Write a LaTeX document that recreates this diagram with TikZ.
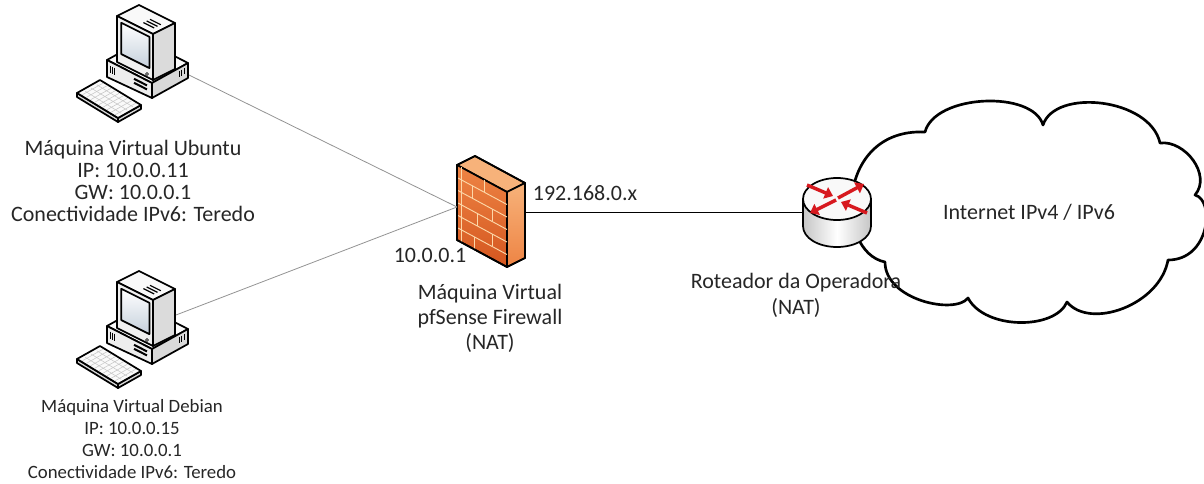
\documentclass[tikz,border=0pt]{standalone}
\usepackage{fontspec}
\setmainfont{Carlito}
\usetikzlibrary{arrows.meta}

\definecolor{txt}{HTML}{262626}
\definecolor{fwlight}{HTML}{F7B27A}
\definecolor{fwmid}{HTML}{EE8444}
\definecolor{fwdark}{HTML}{D4561F}
\definecolor{brick}{HTML}{FCD7A8}
\definecolor{screen}{HTML}{C5D0DC}
\definecolor{arrowred}{HTML}{D7191F}

\tikzset{
  outline/.style={draw=black, line width=1.3pt, line join=round},
  lbl/.style={text=txt, align=center, inner sep=0pt},
  big/.style={font=\fontsize{16.5}{16.3}\selectfont},
  lan/.style={draw=gray!85, line width=0.6pt},
  wan/.style={draw=black, line width=0.6pt},
  cloudline/.style={draw=black, line width=2pt, line join=round, fill=white},
  keyline/.style={draw=gray!45, line width=0.4pt},
  brickline/.style={draw=brick, line width=0.7pt},
  redarrow/.style={draw=arrowred, line width=2.6pt, -{Triangle[width=9pt,length=6pt]}},
  %computador
  pics/computer/.style={code={
    %gabinete
    \draw[outline, fill=gray!4] (-26,0) -- (10,-20) -- (55,3) -- (19,23) -- cycle;
    \draw[outline, fill=gray!14] (-26,0) -- (19,23) -- (19,38) -- (-26,17) -- cycle;
    \draw[outline, fill=gray!30] (19,23) -- (55,3) -- (55,18) -- (19,38) -- cycle;
    \draw[line width=1.5pt] (1,18.8) -- (14,25.4) (1,22.8) -- (14,29.4);
    \foreach \x/\y in {-23/1.5, -21/2.6, -19/3.6}
      \draw[line width=0.5pt] (\x,\y+4) -- (\x,\y+11);
    \foreach \x/\y in {46/8, 48.5/6.6, 51/5.2}
      \draw[line width=0.5pt] (\x,\y+3) -- (\x,\y+9);
    %monitor
    \draw[outline, fill=gray!5] (-16,-44) -- (6,-55) -- (42,-37) -- (20,-26) -- cycle;
    \draw[outline, fill=gray!28] (20,-26) -- (42,-37) -- (42,9) -- (20,20) -- cycle;
    \draw[outline, fill=gray!12] (-16,-44) -- (20,-26) -- (20,20) -- (-16,2) -- cycle;
    \draw[outline, top color=white, bottom color=screen]
      (-11.7,-37.2) -- (16.4,-23.2) -- (16.4,8.1) -- (-11.7,-5.9) -- cycle;
    \foreach \t in {0.3,0.45,0.6}
      \draw[line width=0.9pt] (-16,-44) ++(19.8+22*\t, 9.9-11*\t) -- ++(10.8,5.4);
    \draw[line width=0.5pt, fill=gray!40] (14,14) circle [radius=1.5];
    %teclado
    \draw[outline, fill=gray!30] (-56,33) -- (-15,58) -- (-15,62) -- (-56,37) -- cycle;
    \draw[outline, fill=gray!30] (-15,58) -- (8,45) -- (8,49) -- (-15,62) -- cycle;
    \draw[outline, fill=gray!4] (-56,33) -- (-33,20) -- (8,45) -- (-15,58) -- cycle;
    \foreach \i in {1,2,3}
      \draw[keyline] (-56,33) ++(5.75*\i+2.5, -3.25*\i+1.5) -- ++(36,22);
    \foreach \j in {1,...,9}
      \draw[keyline] (-56,33) ++(4.1*\j+1.4, 2.5*\j-0.8) -- ++(20.2,-11.4);
    \coordinate (-case) at (56,15);
    \coordinate (-mon) at (43,-11);
  }},
  %firewall
  pics/firewall/.style={code={
    \draw[outline, fill=fwlight] (-33,-50) -- (-15,-59) -- (35,-32) -- (17,-23) -- cycle;
    \draw[outline, top color=fwlight, bottom color=fwmid] (17,-23) -- (35,-32) -- (35,43) -- (17,52) -- cycle;
    \draw[outline, top color=fwmid, bottom color=fwdark] (-33,-50) -- (17,-23) -- (17,52) -- (-33,25) -- cycle;
    \foreach \k in {1,...,5}
      \draw[brickline] (-33,-50) ++(0,12.5*\k) -- ++(50,27);
    \draw[brickline] (-29,-48) -- (-29,27);
    \foreach \r/\u in {0/0.55, 1/0.3, 2/0.7, 3/0.4, 4/0.7, 5/0.35}
      \draw[brickline] (-33,-50) ++(50*\u, 27*\u+12.5*\r) -- ++(0,12.5);
    \draw[outline, fill=none] (-33,-50) -- (-15,-59) -- (35,-32) -- (35,43) -- (17,52) -- (-33,25) -- cycle;
    \coordinate (-in) at (-33,-8);
    \coordinate (-out) at (35,-3);
  }},
  %roteador
  pics/router/.style={code={
    \draw[outline, left color=gray!45, right color=gray!45, middle color=white]
      (-34,-13) -- (-34,14) .. controls (-34,26) and (-18.8,35) .. (0,35)
      .. controls (18.8,35) and (34,26) .. (34,14) -- (34,-13) -- cycle;
    \draw[outline, fill=gray!5] (0,-13) ellipse [x radius=34, y radius=21];
    \draw[redarrow] (1,-14) -- (27,-28);
    \draw[redarrow] (-1,-12) -- (-27,1);
    \draw[redarrow] (-30,-27) -- (-4,-16);
    \draw[redarrow] (30,1) -- (4,-10);
    \coordinate (-in) at (-34,0);
  }},
}

\begin{document}
\begin{tikzpicture}[x=0.75pt, y=-0.75pt]
  \useasboundingbox (0,0) rectangle (1204,483);

  %Internet
  \draw[cloudline] (925,132)
    .. controls (935,94) and (1033,90) .. (1043,125)
    .. controls (1055,88) and (1150,98) .. (1160,143)
    .. controls (1185,140) and (1212,175) .. (1195,195)
    .. controls (1215,200) and (1210,260) .. (1168,260)
    .. controls (1160,305) and (1090,330) .. (1067,302)
    .. controls (1055,330) and (985,330) .. (968,298)
    .. controls (955,315) and (885,300) .. (885,262)
    .. controls (835,252) and (835,128) .. (925,132) -- cycle;
  \node[lbl, big] (internet) at (1029,212) {Internet IPv4 / IPv6};

  %Maquinas virtuais
  \pic (ubuntu) at (133,60) {computer};
  \node[lbl, big] (ubuntu-lbl) at (133,181)
    {Máquina Virtual Ubuntu\\IP: 10.0.0.11\\GW: 10.0.0.1\\Conectividade IPv6: Teredo};

  \pic (debian) at (133,326) {computer};
  \node[lbl, font=\fontsize{14.1}{16.5}\selectfont] (debian-lbl) at (132,439)
    {Máquina Virtual Debian\\IP: 10.0.0.15\\GW: 10.0.0.1\\Conectividade IPv6: Teredo};

  %pfSense
  \pic (pfsense) at (490,215) {firewall};
  \node[lbl, font=\fontsize{16.5}{18.8}\selectfont] (pfsense-lbl) at (490,318)
    {Máquina Virtual\\pfSense Firewall\\(NAT)};
  \node[lbl, big] (lan-ip) at (430,255) {10.0.0.1};
  \node[lbl, big] (wan-ip) at (585,193) {192.168.0.x};

  %Roteador
  \pic (roteador) at (837,212) {router};
  \node[lbl, font=\fontsize{16.5}{19.5}\selectfont] (roteador-lbl) at (796,295)
    {Roteador da Operadora\\(NAT)};

  %Ligacoes
  \draw[lan] (ubuntu-case) -- (pfsense-in);
  \draw[lan] (debian-mon) -- (pfsense-in);
  \draw[wan] (pfsense-out) -- (roteador-in);
\end{tikzpicture}
\end{document}
